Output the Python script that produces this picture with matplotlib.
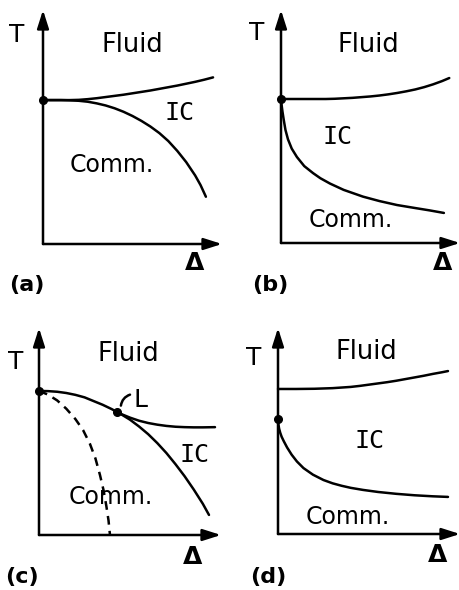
import numpy as np
import matplotlib.pyplot as plt

# phase boundaries, T vs Delta, arbitrary units (0..10 on each axis)
# (a) fluid-IC and IC-comm. lines leave the same point
a_up_d = [0, 1, 1.5, 2, 2.5, 3, 3.5, 4, 4.5, 5, 5.5, 6, 6.5, 7, 7.5, 8, 8.5, 9, 9.5]
a_up_t = [6.15, 6.15, 6.15, 6.16, 6.19, 6.23, 6.28, 6.33, 6.38, 6.44, 6.50, 6.56,
          6.63, 6.70, 6.77, 6.85, 6.93, 7.02, 7.12]
a_lo_d = [0, 1, 1.5, 2, 2.5, 3, 3.5, 4, 4.5, 5, 5.5, 6, 6.5, 7, 7.5, 8, 8.5, 8.8, 9.1]
a_lo_t = [6.15, 6.15, 6.14, 6.12, 6.08, 6.01, 5.92, 5.80, 5.65, 5.47, 5.26, 5.02,
          4.74, 4.40, 3.98, 3.50, 2.93, 2.52, 2.02]

# (b) IC phase opens up right away
b_up_d = [0, 1, 2, 2.5, 3, 3.5, 4, 4.5, 5, 5.5, 6, 6.5, 7, 7.5, 8, 8.5, 9, 9.4]
b_up_t = [6.18, 6.18, 6.18, 6.18, 6.19, 6.21, 6.23, 6.26, 6.29, 6.33, 6.38, 6.44,
          6.51, 6.59, 6.69, 6.81, 6.95, 7.08]
b_lo_d = [0, 0.03, 0.08, 0.15, 0.25, 0.39, 0.6, 0.89, 1.3, 1.79, 2.2, 2.74, 3.5,
          4.58, 5.5, 6.48, 7.5, 8.3, 9.1]
b_lo_t = [6.18, 5.95, 5.65, 5.30, 4.85, 4.45, 4.05, 3.69, 3.30, 3.00, 2.78, 2.55,
          2.28, 1.99, 1.80, 1.63, 1.50, 1.40, 1.29]

# (c) Lifshitz point L where the two lines split
c_main_d = [0, 0.5, 1, 1.5, 2, 2.5, 3, 3.5, 4, 4.29, 4.5, 5, 5.5, 6, 6.5, 7, 7.5,
            8, 8.5, 9, 9.34]
c_main_t = [6.96, 6.95, 6.92, 6.86, 6.77, 6.65, 6.47, 6.29, 6.08, 5.94, 5.84, 5.57,
            5.24, 4.87, 4.44, 3.96, 3.42, 2.84, 2.20, 1.51, 0.97]
c_up_d = [4.29, 4.5, 5, 5.5, 6, 6.5, 7, 7.5, 8, 8.5, 9, 9.67]
c_up_t = [5.94, 5.85, 5.67, 5.52, 5.41, 5.33, 5.27, 5.23, 5.21, 5.20, 5.20, 5.21]
c_dash_d = [0, 0.5, 1.0, 1.5, 2.0, 2.42, 2.8, 3.1, 3.35, 3.55, 3.7, 3.82, 3.9]
c_dash_t = [6.96, 6.78, 6.50, 6.10, 5.60, 5.07, 4.40, 3.70, 2.90, 2.15, 1.40, 0.70, 0.0]
c_L = (4.29, 5.94)

# (d) separate transitions
d_up_d = [0, 1, 2, 3, 4, 4.5, 5, 5.5, 6, 6.5, 7, 7.5, 8, 8.5, 9, 9.34]
d_up_t = [7.04, 7.04, 7.05, 7.08, 7.14, 7.19, 7.25, 7.31, 7.37, 7.44, 7.52, 7.60,
          7.68, 7.77, 7.85, 7.91]
d_lo_d = [0, 0.02, 0.06, 0.12, 0.2, 0.32, 0.5, 0.75, 1.04, 1.4, 1.92, 2.5, 3.0,
          3.5, 4.0, 4.67, 5.5, 6.5, 7.5, 8.5, 9.34]
d_lo_t = [5.58, 5.35, 5.12, 4.92, 4.72, 4.50, 4.20, 3.85, 3.52, 3.20, 2.88, 2.62,
          2.46, 2.34, 2.24, 2.14, 2.04, 1.95, 1.88, 1.83, 1.80]

W, H = 460, 590
fig = plt.figure(figsize=(W / 100, H / 100), dpi=100)

lw = 1.8
ms = 5.5


def panel(x0, y0, xtip, ytip):
    # axes box runs from the origin to the arrow tips (pixels)
    ax = fig.add_axes([x0 / W, 1 - y0 / H, (xtip - x0) / W, (y0 - ytip) / H])
    ax.set_xlim(0, 10)
    ax.set_ylim(0, 10)
    ax.axis('off')
    ap = dict(arrowstyle='-|>,head_length=1.1,head_width=0.35', lw=lw,
              color='k', mutation_scale=10, shrinkA=0, shrinkB=0)
    ax.annotate('', xy=(10, 0), xytext=(0, 0), arrowprops=ap, annotation_clip=False)
    ax.annotate('', xy=(0, 10), xytext=(0, 0), arrowprops=ap, annotation_clip=False)
    return ax


def labels(ax, tag, t, fluid, ic, comm, delta, tagpos):
    kw = dict(ha='center', va='center', clip_on=False)
    ax.text(*t, 'T', fontsize=18, **kw)
    ax.text(*fluid, 'Fluid', fontsize=18.5, **kw)
    ax.text(*ic, 'IC', fontsize=18, family='DejaVu Sans Mono', **kw)
    ax.text(*comm, 'Comm.', fontsize=17, **kw)
    ax.text(*delta, 'Δ', fontsize=18, fontweight='bold', **kw)
    ax.text(*tagpos, tag, fontsize=16, fontweight='bold', **kw)


def line(ax, d, t, **kw):
    ax.plot(d, t, color='k', lw=lw, clip_on=False, solid_capstyle='round',
            solid_joinstyle='round', **kw)


# (a)
ax = panel(43, 244, 222, 10)
line(ax, a_up_d, a_up_t)
line(ax, a_lo_d, a_lo_t)
ax.plot(a_up_d[0], a_up_t[0], 'ko', ms=ms, clip_on=False)
labels(ax, '(a)', (-1.45, 8.93), (4.97, 8.5), (7.6, 5.6), (3.85, 3.38),
       (8.44, -0.81), (-0.89, -1.75))

# (b)
ax = panel(281, 243, 460, 10)
line(ax, b_up_d, b_up_t)
line(ax, b_lo_d, b_lo_t)
ax.plot(b_up_d[0], b_up_t[0], 'ko', ms=ms, clip_on=False)
labels(ax, '(b)', (-1.34, 9.01), (4.86, 8.5), (3.18, 4.55), (3.91, 0.99),
       (9.05, -0.86), (-0.61, -1.8))

# (c)
ax = panel(39, 535, 221, 328)
line(ax, c_main_d, c_main_t)
line(ax, c_up_d, c_up_t)
ax.plot(c_dash_d, c_dash_t, color='k', ls=(0, (3.5, 2.5)), lw=lw, clip_on=False)
ax.plot([c_main_d[0], c_L[0]], [c_main_t[0], c_L[1]], 'ko', ms=ms, clip_on=False)
ax.annotate('', xy=(4.5, 6.25), xytext=(5.0, 6.78),
            arrowprops=dict(arrowstyle='-', lw=lw, color='k', shrinkA=0, shrinkB=0,
                            connectionstyle='arc3,rad=0.3'))
ax.text(5.6, 6.52, 'L', fontsize=18, ha='center', va='center')
labels(ax, '(c)', (-1.26, 8.36), (4.89, 8.74), (8.52, 3.86), (3.96, 1.84),
       (8.46, -1.06), (-0.93, -2.03))

# (d)
ax = panel(278, 534, 460, 328)
line(ax, d_up_d, d_up_t)
line(ax, d_lo_d, d_lo_t)
ax.plot(d_lo_d[0], d_lo_t[0], 'ko', ms=ms, clip_on=False)
labels(ax, '(d)', (-1.32, 8.54), (4.84, 8.83), (5.05, 4.51), (3.85, 0.83),
       (8.79, -1.02), (-0.55, -2.09))

fig.savefig('out.png', dpi=100)
